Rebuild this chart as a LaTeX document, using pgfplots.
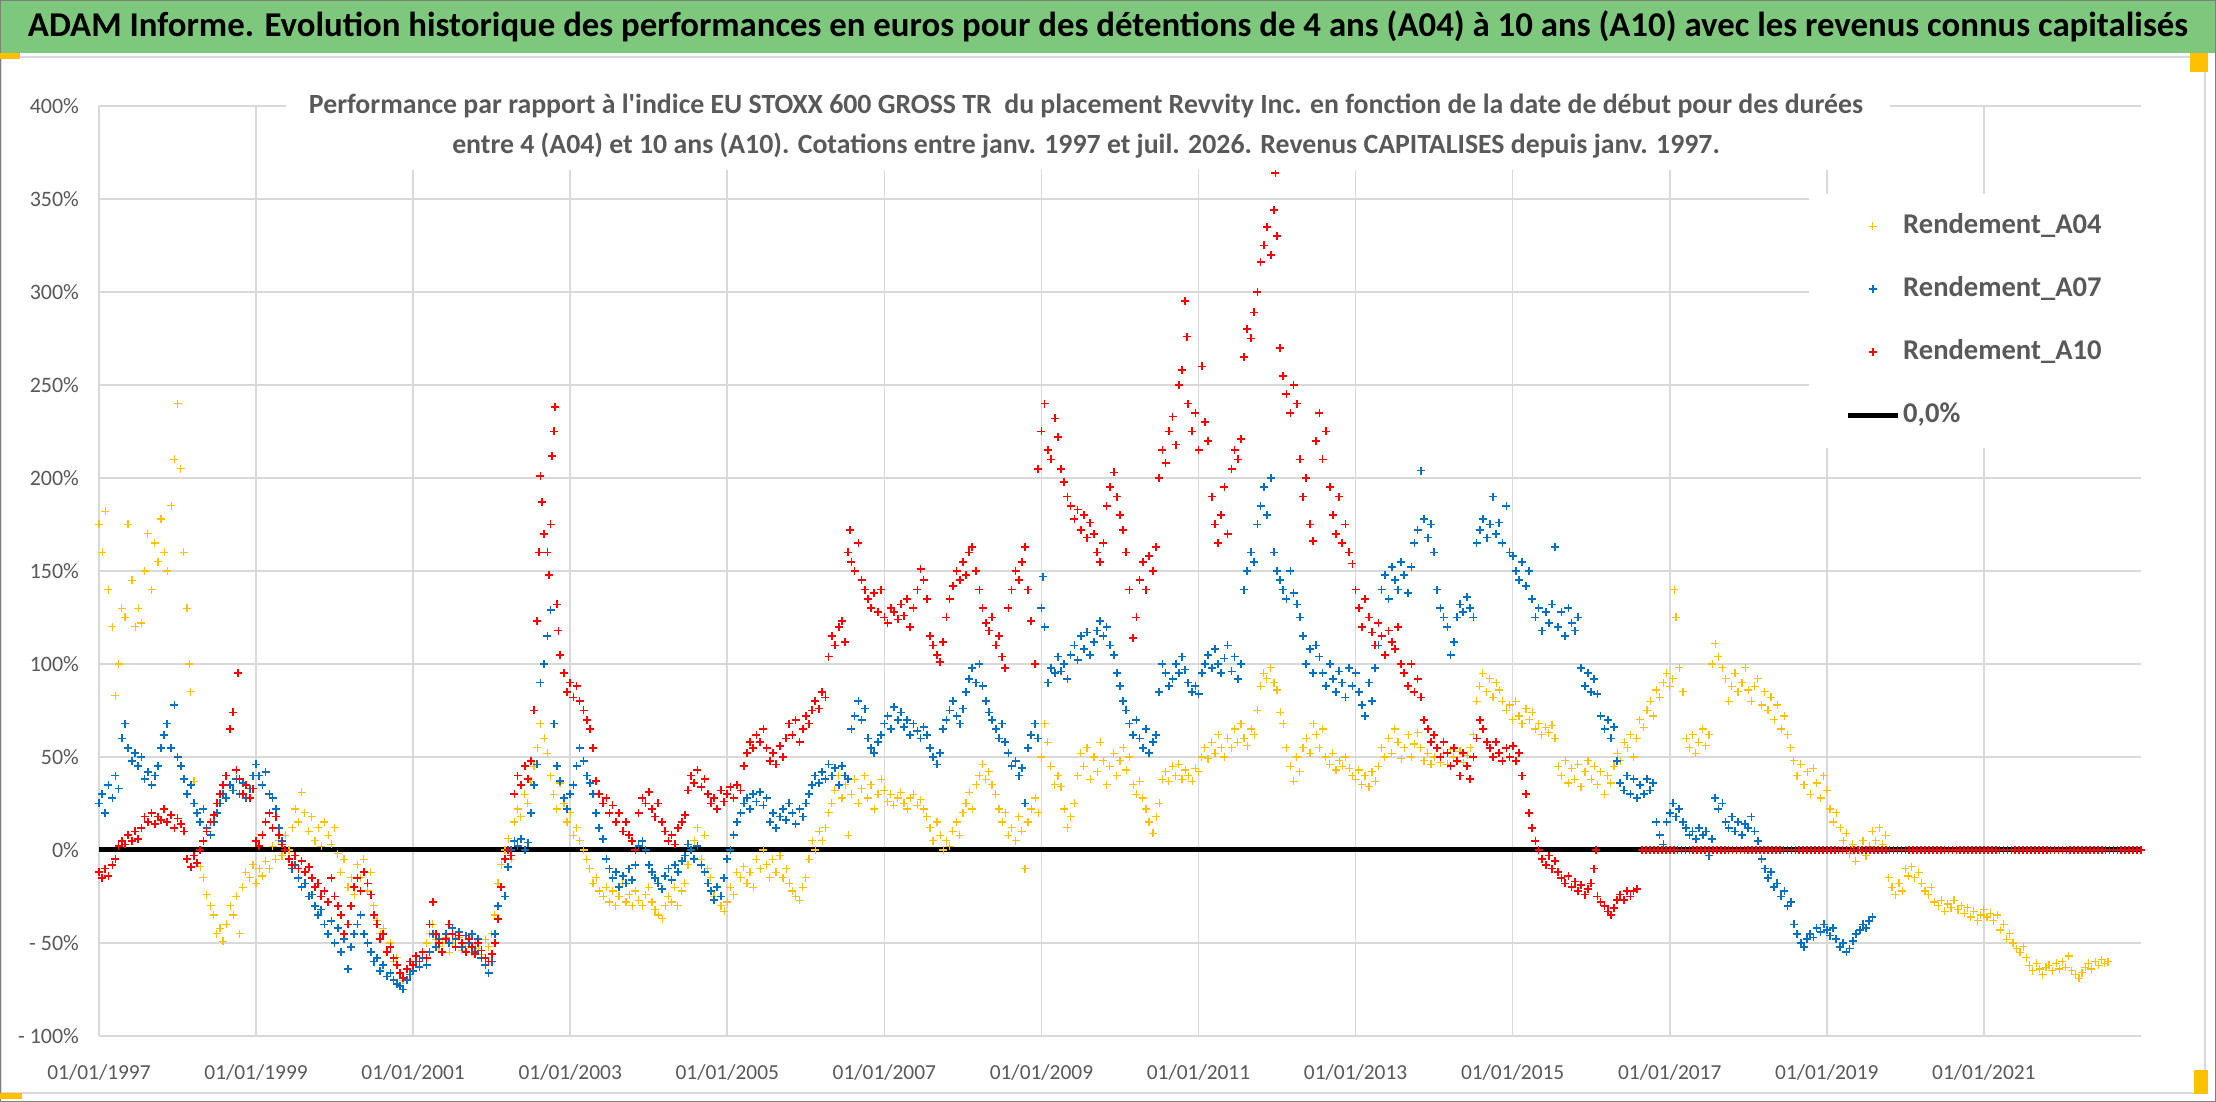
\documentclass[border=0pt]{standalone}
\usepackage{graphicx}
\usepackage{pgfplots}
\pgfplotsset{compat=1.18}
\usepackage{fontspec}
\setmainfont[Ligatures=TeXOff]{Carlito}
\definecolor{cyel}{HTML}{FFC000}
\definecolor{cblu}{HTML}{0070C0}
\definecolor{cred}{HTML}{FF0000}
\definecolor{ctxt}{HTML}{595959}
\definecolor{cgrid}{HTML}{D9D9D9}
\definecolor{cgreen}{HTML}{7EC87E}
\begin{document}
\begin{tikzpicture}[x=1pt,y=1pt]
\fill[white] (0,0) rectangle (1108,551);
\path[use as bounding box] (0,0) rectangle (1108,551);
\fill[cgreen] (0,551) rectangle (1108,524.5);
\draw[cgrid, line width=0.8pt] (0.6,4.5) rectangle (1102.5,522.5);
\draw[gray, line width=0.6pt] (0.3,0.3) rectangle (1107.7,550.7);
\fill[cyel] (0,521.5) rectangle (10,524.5);
\fill[cyel] (1095,524.5) rectangle (1104,515);
\fill[cyel] (1097,4) rectangle (1104,16);
\fill[cyel] (0,1.5) rectangle (11,4.5);
\begin{axis}[at={(49.5pt,33pt)}, anchor=south west, scale only axis,
  width=1021pt, height=465pt,
  xmin=1997, xmax=2023, ymin=-100, ymax=400,
  scaled x ticks=false, scaled y ticks=false,
  axis lines=left, axis line style={-, cgrid, line width=1.1pt},
  grid=major, major grid style={cgrid, line width=0.8pt},
  major tick length=0pt,
  xtick={1997,1999,2001,2003,2005,2007,2009,2011,2013,2015,2017,2019,2021},
  xticklabels={01/01/1997,01/01/1999,01/01/2001,01/01/2003,01/01/2005,01/01/2007,01/01/2009,01/01/2011,01/01/2013,01/01/2015,01/01/2017,01/01/2019,01/01/2021},
  ytick={-100,-50,0,50,100,150,200,250,300,350,400},
  yticklabels={- 100\%,- 50\%,0\%,50\%,100\%,150\%,200\%,250\%,300\%,350\%,400\%},
  xticklabel style={font=\fontsize{10.7}{12}\selectfont, text=ctxt, yshift=-11pt},
  yticklabel style={font=\fontsize{11}{12}\selectfont, text=ctxt, anchor=east, xshift=-6.5pt},
  legend style={at={(rel axis cs:1,0.906)}, anchor=north east, fill=white, draw=none,
    inner xsep=18pt, inner ysep=8pt, row sep=15pt,
    font=\fontsize{14.3}{17}\selectfont\bfseries, text=ctxt,
    nodes={inner sep=1.5pt, text height=10.5pt, text depth=3pt, anchor=west}},
  legend cell align=left,
  legend image code/.code={\draw[mark repeat=2,mark phase=2,#1] plot coordinates {(0pt,0pt) (12.5pt,0pt) (25pt,0pt)};},
]
\addplot[black, line width=2.5pt, forget plot] coordinates {(1997,0) (2023,0)};
\addplot[only marks, mark=+, mark size=2pt, color=cyel, mark options={line width=0.6pt}] coordinates {
(1997.00,175)(1997.04,160)(1997.08,182)(1997.12,140)(1997.17,120)(1997.21,83)(1997.25,100)(1997.29,130)(1997.33,125)(1997.37,175)(1997.42,145)(1997.46,120)(1997.50,130)(1997.54,122)(1997.58,150)(1997.62,170)(1997.67,140)(1997.71,165)(1997.75,155)(1997.79,178)(1997.83,160)(1997.87,150)(1997.92,185)(1997.96,210)
(1998.00,240)(1998.04,205)(1998.08,160)(1998.12,130)(1998.15,100)(1998.17,85)(1998.21,37)(1998.25,20)(1998.29,-9)(1998.33,-15)(1998.37,-24)(1998.42,-30)(1998.46,-35)(1998.50,-45)(1998.54,-42)(1998.58,-49)(1998.62,-40)(1998.67,-30)(1998.71,-35)(1998.75,-25)(1998.79,-45)(1998.83,-20)(1998.87,-12)(1998.92,-15)(1998.96,-8)
(1999.00,-18)(1999.04,-10)(1999.08,-14)(1999.12,-6)(1999.17,-10)(1999.21,2)(1999.25,-5)(1999.29,5)(1999.33,-3)(1999.37,8)(1999.42,0)(1999.46,12)(1999.50,22)(1999.54,15)(1999.58,31)(1999.62,20)(1999.67,10)(1999.71,18)(1999.75,5)(1999.79,12)(1999.83,2)(1999.87,15)(1999.92,8)(1999.96,3)
(2000.00,12)(2000.04,-2)(2000.08,-12)(2000.12,-5)(2000.17,-20)(2000.21,-15)(2000.25,-24)(2000.29,-8)(2000.33,-15)(2000.37,-5)(2000.42,-22)(2000.46,-12)(2000.50,-30)(2000.54,-38)(2000.58,-45)(2000.62,-42)(2000.67,-55)(2000.71,-50)(2000.75,-60)(2000.79,-58)(2000.83,-66)(2000.87,-70)(2000.92,-64)(2000.96,-60)
(2001.00,-62)(2001.04,-57)(2001.08,-60)(2001.12,-55)(2001.17,-50)(2001.21,-45)(2001.25,-40)(2001.29,-48)(2001.33,-52)(2001.37,-50)(2001.42,-47)(2001.46,-55)(2001.50,-50)(2001.54,-52)(2001.58,-47)(2001.62,-54)(2001.67,-52)(2001.71,-50)(2001.75,-55)(2001.79,-50)(2001.83,-53)(2001.87,-56)(2001.92,-48)(2001.96,-52)
(2002.00,-45)(2002.04,-35)(2002.08,-18)(2002.12,-8)(2002.17,0)(2002.21,6)(2002.25,-5)(2002.29,15)(2002.33,22)(2002.37,18)(2002.42,30)(2002.46,25)(2002.50,37)(2002.54,45)(2002.58,55)(2002.62,68)(2002.67,60)(2002.71,52)(2002.75,40)(2002.79,30)(2002.83,22)(2002.87,36)(2002.92,25)(2002.96,15)
(2003.00,20)(2003.04,8)(2003.08,12)(2003.12,5)(2003.17,0)(2003.21,-5)(2003.25,-10)(2003.29,-18)(2003.33,-15)(2003.37,-22)(2003.42,-25)(2003.46,-20)(2003.50,-28)(2003.54,-22)(2003.58,-30)(2003.62,-25)(2003.67,-18)(2003.71,-28)(2003.75,-24)(2003.79,-30)(2003.83,-22)(2003.87,-27)(2003.92,-30)(2003.96,-24)
(2004.00,-20)(2004.04,-28)(2004.08,-32)(2004.12,-35)(2004.17,-37)(2004.21,-30)(2004.25,-25)(2004.29,-28)(2004.33,-20)(2004.37,-30)(2004.42,-22)(2004.46,-18)(2004.50,-8)(2004.54,0)(2004.58,5)(2004.62,12)(2004.67,-5)(2004.71,8)(2004.75,-10)(2004.79,-15)(2004.83,-25)(2004.87,-20)(2004.92,-30)(2004.96,-33)
(2005.00,-28)(2005.04,-20)(2005.08,-24)(2005.12,-12)(2005.17,-15)(2005.21,-9)(2005.25,-18)(2005.29,-12)(2005.33,-20)(2005.37,-5)(2005.42,-10)(2005.46,0)(2005.50,-8)(2005.54,-15)(2005.58,-5)(2005.62,-12)(2005.67,-3)(2005.71,-15)(2005.75,-10)(2005.79,-18)(2005.83,-22)(2005.87,-25)(2005.92,-27)(2005.96,-20)
(2006.00,-15)(2006.04,-5)(2006.08,5)(2006.12,0)(2006.17,10)(2006.21,5)(2006.25,12)(2006.29,20)(2006.33,25)(2006.37,32)(2006.42,40)(2006.46,28)(2006.50,35)(2006.54,8)(2006.58,30)(2006.62,38)(2006.67,25)(2006.71,33)(2006.75,40)(2006.79,28)(2006.83,35)(2006.87,22)(2006.92,30)(2006.96,38)
(2007.00,32)(2007.04,26)(2007.08,30)(2007.12,24)(2007.17,28)(2007.21,31)(2007.25,25)(2007.29,22)(2007.33,28)(2007.37,30)(2007.42,24)(2007.46,27)(2007.50,22)(2007.54,18)(2007.58,12)(2007.62,5)(2007.67,15)(2007.71,8)(2007.75,0)(2007.79,5)(2007.83,2)(2007.87,10)(2007.92,15)(2007.96,8)
(2008.00,20)(2008.04,25)(2008.08,31)(2008.12,22)(2008.17,35)(2008.21,40)(2008.25,46)(2008.29,38)(2008.33,42)(2008.37,35)(2008.42,30)(2008.46,22)(2008.50,15)(2008.54,20)(2008.58,8)(2008.62,12)(2008.67,5)(2008.71,18)(2008.75,10)(2008.79,-10)(2008.83,15)(2008.87,22)(2008.92,28)(2008.96,20)
(2009.00,50)(2009.04,68)(2009.08,58)(2009.12,45)(2009.17,35)(2009.21,40)(2009.25,34)(2009.29,22)(2009.33,12)(2009.37,18)(2009.42,25)(2009.46,40)(2009.50,52)(2009.54,45)(2009.58,55)(2009.62,38)(2009.67,50)(2009.71,42)(2009.75,58)(2009.79,48)(2009.83,35)(2009.87,45)(2009.92,52)(2009.96,40)
(2010.00,48)(2010.04,55)(2010.08,43)(2010.12,50)(2010.17,35)(2010.21,30)(2010.25,37)(2010.29,28)(2010.33,22)(2010.37,15)(2010.42,9)(2010.46,18)(2010.50,25)(2010.54,38)(2010.58,42)(2010.62,37)(2010.67,45)(2010.71,40)(2010.75,46)(2010.79,38)(2010.83,43)(2010.87,40)(2010.92,37)(2010.96,44)
(2011.00,42)(2011.04,50)(2011.08,55)(2011.12,49)(2011.17,58)(2011.21,52)(2011.25,62)(2011.29,55)(2011.33,50)(2011.37,60)(2011.42,55)(2011.46,65)(2011.50,58)(2011.54,68)(2011.58,60)(2011.62,56)(2011.67,65)(2011.71,62)(2011.75,75)(2011.79,88)(2011.83,95)(2011.87,92)(2011.92,98)(2011.96,90)
(2012.00,86)(2012.04,74)(2012.08,68)(2012.12,55)(2012.17,45)(2012.21,37)(2012.25,50)(2012.29,42)(2012.33,55)(2012.37,60)(2012.42,52)(2012.46,68)(2012.50,62)(2012.54,55)(2012.58,65)(2012.62,50)(2012.67,46)(2012.71,52)(2012.75,43)(2012.79,48)(2012.83,45)(2012.87,50)(2012.92,44)(2012.96,40)
(2013.00,38)(2013.04,43)(2013.08,35)(2013.12,40)(2013.17,34)(2013.21,42)(2013.25,37)(2013.29,45)(2013.33,55)(2013.37,50)(2013.42,60)(2013.46,52)(2013.50,65)(2013.54,58)(2013.58,49)(2013.62,55)(2013.67,62)(2013.71,50)(2013.75,57)(2013.79,63)(2013.83,55)(2013.87,48)(2013.92,52)(2013.96,46)
(2014.00,50)(2014.04,55)(2014.08,47)(2014.12,52)(2014.17,46)(2014.21,54)(2014.25,50)(2014.29,48)(2014.33,53)(2014.37,47)(2014.42,51)(2014.46,55)(2014.50,62)(2014.54,80)(2014.58,88)(2014.62,95)(2014.67,85)(2014.71,92)(2014.75,82)(2014.79,90)(2014.83,86)(2014.87,80)(2014.92,75)(2014.96,78)
(2015.00,70)(2015.04,80)(2015.08,72)(2015.12,68)(2015.17,76)(2015.21,70)(2015.25,74)(2015.29,65)(2015.33,68)(2015.37,62)(2015.42,66)(2015.46,63)(2015.50,67)(2015.54,60)(2015.58,45)(2015.62,40)(2015.67,48)(2015.71,36)(2015.75,44)(2015.79,38)(2015.83,46)(2015.87,34)(2015.92,42)(2015.96,48)
(2016.00,38)(2016.04,45)(2016.08,35)(2016.12,42)(2016.17,30)(2016.21,40)(2016.25,36)(2016.29,45)(2016.33,52)(2016.37,48)(2016.42,58)(2016.46,55)(2016.50,62)(2016.54,50)(2016.58,60)(2016.62,70)(2016.67,66)(2016.71,75)(2016.75,80)(2016.79,72)(2016.83,86)(2016.87,82)(2016.92,90)(2016.96,95)
(2017.00,88)(2017.04,92)(2017.06,140)(2017.08,125)(2017.12,98)(2017.17,85)(2017.21,60)(2017.25,55)(2017.29,62)(2017.33,52)(2017.37,58)(2017.42,65)(2017.46,56)(2017.50,62)(2017.54,100)(2017.58,111)(2017.62,104)(2017.67,98)(2017.71,92)(2017.75,80)(2017.79,88)(2017.83,95)(2017.87,85)(2017.92,90)(2017.96,98)
(2018.00,86)(2018.04,80)(2018.08,88)(2018.12,92)(2018.17,78)(2018.21,85)(2018.25,75)(2018.29,82)(2018.33,70)(2018.37,78)(2018.42,65)(2018.46,72)(2018.50,62)(2018.54,55)(2018.58,48)(2018.62,40)(2018.67,46)(2018.71,35)(2018.75,42)(2018.79,30)(2018.83,44)(2018.87,36)(2018.92,28)(2018.96,40)
(2019.00,32)(2019.04,22)(2019.08,15)(2019.12,20)(2019.17,12)(2019.21,5)(2019.25,9)(2019.29,-2)(2019.33,3)(2019.37,-6)(2019.42,0)(2019.46,5)(2019.50,-3)(2019.54,2)(2019.58,10)(2019.62,5)(2019.67,12)(2019.71,3)(2019.75,8)(2019.79,-15)(2019.83,-20)(2019.87,-24)(2019.92,-18)(2019.96,-22)
(2020.00,-10)(2020.04,-14)(2020.08,-9)(2020.12,-15)(2020.17,-12)(2020.21,-18)(2020.25,-22)(2020.29,-24)(2020.33,-20)(2020.37,-28)(2020.42,-30)(2020.46,-27)(2020.50,-33)(2020.54,-29)(2020.58,-31)(2020.62,-27)(2020.67,-32)(2020.71,-30)(2020.75,-34)(2020.79,-31)(2020.83,-36)(2020.87,-33)(2020.92,-38)(2020.96,-35)
(2021.00,-32)(2021.04,-36)(2021.08,-34)(2021.12,-38)(2021.17,-35)(2021.21,-43)(2021.25,-40)(2021.29,-48)(2021.33,-45)(2021.37,-50)(2021.42,-53)(2021.46,-55)(2021.50,-52)(2021.54,-58)(2021.58,-62)(2021.62,-65)(2021.67,-61)(2021.71,-64)(2021.75,-67)(2021.79,-63)(2021.83,-62)(2021.87,-65)(2021.92,-61)(2021.96,-64)
(2022.00,-60)(2022.04,-63)(2022.08,-57)(2022.12,-65)(2022.17,-67)(2022.21,-69)(2022.25,-66)(2022.29,-63)(2022.33,-61)(2022.37,-64)(2022.42,-60)(2022.46,-62)(2022.50,-59)(2022.54,-61)(2022.58,-60)
};
\addlegendentry{Rendement\_A04}
\addplot[only marks, mark=+, mark size=2pt, color=cblu, mark options={line width=0.85pt}] coordinates {
(1997.00,25)(1997.04,30)(1997.08,20)(1997.12,35)(1997.17,28)(1997.21,40)(1997.25,33)(1997.29,60)(1997.33,68)(1997.37,55)(1997.42,48)(1997.46,52)(1997.50,45)(1997.54,50)(1997.58,38)(1997.62,42)(1997.67,35)(1997.71,40)(1997.75,45)(1997.79,55)(1997.83,62)(1997.87,68)(1997.92,55)(1997.96,78)
(1998.00,50)(1998.04,45)(1998.08,38)(1998.12,30)(1998.17,35)(1998.21,25)(1998.25,20)(1998.29,15)(1998.33,22)(1998.37,12)(1998.42,8)(1998.46,15)(1998.50,20)(1998.54,25)(1998.58,30)(1998.62,28)(1998.67,35)(1998.71,32)(1998.75,38)(1998.79,30)(1998.83,36)(1998.87,28)(1998.92,33)(1998.96,40)
(1999.00,46)(1999.04,40)(1999.08,35)(1999.12,42)(1999.17,30)(1999.21,28)(1999.25,22)(1999.29,12)(1999.33,5)(1999.37,0)(1999.42,-5)(1999.46,-10)(1999.50,-8)(1999.54,-15)(1999.58,-20)(1999.62,-18)(1999.67,-25)(1999.71,-24)(1999.75,-30)(1999.79,-35)(1999.83,-32)(1999.87,-40)(1999.92,-45)(1999.96,-38)
(2000.00,-50)(2000.04,-42)(2000.08,-55)(2000.12,-48)(2000.17,-64)(2000.21,-52)(2000.25,-45)(2000.29,-40)(2000.33,-35)(2000.37,-45)(2000.42,-50)(2000.46,-55)(2000.50,-60)(2000.54,-58)(2000.58,-65)(2000.62,-62)(2000.67,-68)(2000.71,-66)(2000.75,-70)(2000.79,-72)(2000.83,-73)(2000.87,-75)(2000.92,-70)(2000.96,-67)
(2001.00,-65)(2001.04,-60)(2001.08,-63)(2001.12,-58)(2001.17,-62)(2001.21,-55)(2001.25,-45)(2001.29,-52)(2001.33,-48)(2001.37,-55)(2001.42,-45)(2001.46,-50)(2001.50,-42)(2001.54,-48)(2001.58,-44)(2001.62,-52)(2001.67,-46)(2001.71,-50)(2001.75,-45)(2001.79,-55)(2001.83,-48)(2001.87,-58)(2001.92,-62)(2001.96,-66)
(2002.00,-60)(2002.04,-45)(2002.08,-30)(2002.12,-20)(2002.17,-25)(2002.21,-9)(2002.25,0)(2002.29,5)(2002.33,2)(2002.37,6)(2002.42,0)(2002.46,4)(2002.50,20)(2002.54,35)(2002.58,46)(2002.62,90)(2002.67,100)(2002.71,115)(2002.75,129)(2002.79,68)(2002.83,45)(2002.87,37)(2002.92,28)(2002.96,22)
(2003.00,30)(2003.04,35)(2003.08,45)(2003.12,55)(2003.17,48)(2003.21,40)(2003.25,36)(2003.29,30)(2003.33,20)(2003.37,12)(2003.42,6)(2003.46,-5)(2003.50,-10)(2003.54,-15)(2003.58,-12)(2003.62,-20)(2003.67,-14)(2003.71,-18)(2003.75,-10)(2003.79,-16)(2003.83,-8)(2003.87,2)(2003.92,5)(2003.96,0)
(2004.00,-8)(2004.04,-12)(2004.08,-15)(2004.12,-18)(2004.17,-21)(2004.21,-14)(2004.25,-10)(2004.29,-16)(2004.33,-8)(2004.37,-12)(2004.42,-6)(2004.46,-3)(2004.50,3)(2004.54,0)(2004.58,-5)(2004.62,2)(2004.67,-8)(2004.71,-12)(2004.75,-18)(2004.79,-22)(2004.83,-27)(2004.87,-20)(2004.92,-25)(2004.96,-15)
(2005.00,-5)(2005.04,0)(2005.08,8)(2005.12,15)(2005.17,20)(2005.21,25)(2005.25,28)(2005.29,22)(2005.33,30)(2005.37,26)(2005.42,31)(2005.46,24)(2005.50,28)(2005.54,15)(2005.58,20)(2005.62,12)(2005.67,18)(2005.71,22)(2005.75,16)(2005.79,25)(2005.83,20)(2005.87,14)(2005.92,22)(2005.96,18)
(2006.00,25)(2006.04,30)(2006.08,35)(2006.12,40)(2006.17,36)(2006.21,42)(2006.25,38)(2006.29,46)(2006.33,40)(2006.37,44)(2006.42,35)(2006.46,45)(2006.50,40)(2006.54,38)(2006.58,65)(2006.62,72)(2006.67,80)(2006.71,70)(2006.75,76)(2006.79,60)(2006.83,55)(2006.87,52)(2006.92,58)(2006.96,62)
(2007.00,68)(2007.04,72)(2007.08,65)(2007.12,77)(2007.17,70)(2007.21,74)(2007.25,66)(2007.29,70)(2007.33,62)(2007.37,68)(2007.42,64)(2007.46,60)(2007.50,66)(2007.54,62)(2007.58,55)(2007.62,50)(2007.67,46)(2007.71,52)(2007.75,65)(2007.79,70)(2007.83,75)(2007.87,80)(2007.92,72)(2007.96,68)
(2008.00,76)(2008.04,85)(2008.08,92)(2008.12,98)(2008.17,90)(2008.21,100)(2008.25,88)(2008.29,80)(2008.33,74)(2008.37,70)(2008.42,65)(2008.46,60)(2008.50,68)(2008.54,58)(2008.58,52)(2008.62,45)(2008.67,48)(2008.71,40)(2008.75,44)(2008.79,25)(2008.83,55)(2008.87,62)(2008.92,68)(2008.96,60)
(2009.00,130)(2009.02,147)(2009.04,120)(2009.08,90)(2009.12,98)(2009.17,95)(2009.21,104)(2009.25,96)(2009.29,100)(2009.33,92)(2009.37,105)(2009.42,110)(2009.46,102)(2009.50,115)(2009.54,108)(2009.58,117)(2009.62,105)(2009.67,112)(2009.71,118)(2009.75,123)(2009.79,115)(2009.83,120)(2009.87,110)(2009.92,105)(2009.96,95)
(2010.00,88)(2010.04,80)(2010.08,75)(2010.12,68)(2010.17,62)(2010.21,70)(2010.25,60)(2010.29,55)(2010.33,65)(2010.37,52)(2010.42,58)(2010.46,62)(2010.50,85)(2010.54,100)(2010.58,95)(2010.62,88)(2010.67,92)(2010.71,100)(2010.75,95)(2010.79,104)(2010.83,97)(2010.87,90)(2010.92,85)(2010.96,88)
(2011.00,84)(2011.04,95)(2011.08,100)(2011.12,105)(2011.17,98)(2011.21,108)(2011.25,100)(2011.29,95)(2011.33,103)(2011.37,110)(2011.42,96)(2011.46,104)(2011.50,92)(2011.54,100)(2011.58,140)(2011.62,150)(2011.67,160)(2011.71,155)(2011.75,175)(2011.79,185)(2011.83,195)(2011.87,180)(2011.92,200)(2011.96,160)
(2012.00,150)(2012.04,145)(2012.08,140)(2012.12,135)(2012.17,150)(2012.21,138)(2012.25,132)(2012.29,125)(2012.33,115)(2012.37,100)(2012.42,108)(2012.46,95)(2012.50,110)(2012.54,104)(2012.58,95)(2012.62,88)(2012.67,100)(2012.71,92)(2012.75,85)(2012.79,96)(2012.83,90)(2012.87,82)(2012.92,98)(2012.96,88)
(2013.00,95)(2013.04,85)(2013.08,78)(2013.12,72)(2013.17,90)(2013.21,80)(2013.25,98)(2013.29,110)(2013.33,140)(2013.37,148)(2013.42,135)(2013.46,152)(2013.50,145)(2013.54,140)(2013.58,155)(2013.62,148)(2013.67,138)(2013.71,152)(2013.75,165)(2013.79,172)(2013.83,204)(2013.87,178)(2013.92,168)(2013.96,175)
(2014.00,160)(2014.04,140)(2014.08,130)(2014.12,125)(2014.17,120)(2014.21,105)(2014.25,112)(2014.29,125)(2014.33,132)(2014.37,128)(2014.42,136)(2014.46,130)(2014.50,125)(2014.54,165)(2014.58,172)(2014.62,178)(2014.67,168)(2014.71,175)(2014.75,190)(2014.79,170)(2014.83,176)(2014.87,165)(2014.92,185)(2014.96,160)
(2015.00,158)(2015.04,150)(2015.08,145)(2015.12,155)(2015.17,142)(2015.21,150)(2015.25,135)(2015.29,125)(2015.33,130)(2015.37,118)(2015.42,128)(2015.46,122)(2015.50,132)(2015.54,163)(2015.58,120)(2015.62,128)(2015.67,115)(2015.71,130)(2015.75,122)(2015.79,118)(2015.83,125)(2015.87,98)(2015.92,88)(2015.96,95)
(2016.00,85)(2016.04,92)(2016.08,84)(2016.12,72)(2016.17,65)(2016.21,70)(2016.25,60)(2016.29,66)(2016.33,48)(2016.37,36)(2016.42,32)(2016.46,40)(2016.50,30)(2016.54,38)(2016.58,28)(2016.62,35)(2016.67,30)(2016.71,38)(2016.75,32)(2016.79,36)(2016.83,15)(2016.87,8)(2016.92,3)(2016.96,15)
(2017.00,20)(2017.04,25)(2017.08,18)(2017.12,22)(2017.17,15)(2017.21,12)(2017.25,8)(2017.29,10)(2017.33,6)(2017.37,12)(2017.42,8)(2017.46,10)(2017.50,-3)(2017.54,6)(2017.58,28)(2017.62,22)(2017.67,25)(2017.71,15)(2017.75,12)(2017.79,18)(2017.83,10)(2017.87,15)(2017.92,8)(2017.96,14)
(2018.00,12)(2018.04,18)(2018.08,10)(2018.12,5)(2018.17,-5)(2018.21,-10)(2018.25,-15)(2018.29,-12)(2018.33,-20)(2018.37,-18)(2018.42,-25)(2018.46,-22)(2018.50,-30)(2018.54,-28)(2018.58,-40)(2018.62,-45)(2018.67,-50)(2018.71,-52)(2018.75,-48)(2018.79,-45)(2018.83,-47)(2018.87,-42)(2018.92,-44)(2018.96,-40)
(2019.00,-43)(2019.04,-46)(2019.08,-42)(2019.12,-48)(2019.17,-52)(2019.21,-50)(2019.25,-55)(2019.29,-53)(2019.33,-49)(2019.37,-45)(2019.42,-43)(2019.46,-40)(2019.50,-42)(2019.54,-38)(2019.58,-36)
};
\addlegendentry{Rendement\_A07}
\addplot[only marks, mark=+, mark size=2pt, color=cred, mark options={line width=0.85pt}] coordinates {
(1997.00,-12)(1997.04,-15)(1997.08,-10)(1997.12,-14)(1997.17,-8)(1997.21,-5)(1997.25,2)(1997.29,5)(1997.33,3)(1997.37,8)(1997.42,5)(1997.46,10)(1997.50,6)(1997.54,12)(1997.58,18)(1997.62,15)(1997.67,20)(1997.71,14)(1997.75,18)(1997.79,16)(1997.83,22)(1997.87,15)(1997.92,19)(1997.96,12)
(1998.00,17)(1998.04,14)(1998.08,10)(1998.12,-5)(1998.17,-9)(1998.21,-3)(1998.25,-7)(1998.29,0)(1998.33,5)(1998.37,10)(1998.42,15)(1998.46,19)(1998.50,25)(1998.54,30)(1998.58,35)(1998.62,40)(1998.67,65)(1998.71,74)(1998.75,43)(1998.77,95)(1998.79,38)(1998.83,30)(1998.87,35)(1998.92,28)(1998.96,33)
(1999.00,5)(1999.04,2)(1999.08,8)(1999.12,15)(1999.17,20)(1999.21,12)(1999.25,18)(1999.29,8)(1999.33,3)(1999.37,0)(1999.42,-5)(1999.46,-8)(1999.50,-3)(1999.54,-10)(1999.58,-6)(1999.62,-12)(1999.67,-9)(1999.71,-15)(1999.75,-20)(1999.79,-18)(1999.83,-25)(1999.87,-22)(1999.92,-28)(1999.96,-15)
(2000.00,-25)(2000.04,-30)(2000.08,-35)(2000.12,-45)(2000.17,-40)(2000.21,-30)(2000.25,-20)(2000.29,-15)(2000.33,-22)(2000.37,-12)(2000.42,-18)(2000.46,-24)(2000.50,-35)(2000.54,-40)(2000.58,-48)(2000.62,-45)(2000.67,-55)(2000.71,-52)(2000.75,-58)(2000.79,-62)(2000.83,-66)(2000.87,-69)(2000.92,-64)(2000.96,-60)
(2001.00,-62)(2001.04,-57)(2001.08,-60)(2001.12,-55)(2001.17,-58)(2001.21,-40)(2001.25,-28)(2001.29,-45)(2001.33,-50)(2001.37,-55)(2001.42,-48)(2001.46,-40)(2001.50,-45)(2001.54,-52)(2001.58,-46)(2001.62,-50)(2001.67,-55)(2001.71,-48)(2001.75,-52)(2001.79,-56)(2001.83,-50)(2001.87,-54)(2001.92,-58)(2001.96,-60)
(2002.00,-56)(2002.04,-50)(2002.08,-37)(2002.12,-20)(2002.17,-5)(2002.21,0)(2002.25,-3)(2002.29,30)(2002.33,40)(2002.37,35)(2002.42,45)(2002.46,38)(2002.50,48)(2002.54,75)(2002.58,123)(2002.60,160)(2002.62,201)(2002.64,187)(2002.67,170)(2002.71,160)(2002.73,148)(2002.75,175)(2002.77,212)(2002.79,225)(2002.81,238)(2002.83,132)(2002.85,118)(2002.87,105)(2002.92,95)(2002.96,85)
(2003.00,90)(2003.04,82)(2003.08,88)(2003.12,80)(2003.17,75)(2003.21,70)(2003.25,65)(2003.29,55)(2003.33,37)(2003.37,30)(2003.42,25)(2003.46,28)(2003.50,20)(2003.54,24)(2003.58,15)(2003.62,20)(2003.67,10)(2003.71,15)(2003.75,8)(2003.79,5)(2003.83,0)(2003.87,20)(2003.92,28)(2003.96,25)
(2004.00,31)(2004.04,22)(2004.08,18)(2004.12,25)(2004.17,15)(2004.21,10)(2004.25,5)(2004.29,8)(2004.33,3)(2004.37,12)(2004.42,15)(2004.46,19)(2004.50,32)(2004.54,40)(2004.58,36)(2004.62,43)(2004.67,34)(2004.71,38)(2004.75,30)(2004.79,25)(2004.83,28)(2004.87,22)(2004.92,32)(2004.96,26)
(2005.00,30)(2005.04,34)(2005.08,28)(2005.12,35)(2005.17,32)(2005.21,45)(2005.25,52)(2005.29,58)(2005.33,55)(2005.37,62)(2005.42,58)(2005.46,65)(2005.50,55)(2005.54,48)(2005.58,52)(2005.62,46)(2005.67,56)(2005.71,50)(2005.75,60)(2005.79,68)(2005.83,62)(2005.87,70)(2005.92,58)(2005.96,65)
(2006.00,72)(2006.04,68)(2006.08,75)(2006.12,80)(2006.17,76)(2006.21,85)(2006.25,82)(2006.29,104)(2006.33,115)(2006.37,110)(2006.42,120)(2006.46,123)(2006.50,112)(2006.54,160)(2006.56,172)(2006.58,155)(2006.62,150)(2006.67,165)(2006.71,145)(2006.75,140)(2006.79,135)(2006.83,130)(2006.87,138)(2006.92,128)(2006.96,140)
(2007.00,125)(2007.04,122)(2007.08,130)(2007.12,128)(2007.17,124)(2007.21,132)(2007.25,126)(2007.29,135)(2007.33,120)(2007.37,130)(2007.42,140)(2007.46,151)(2007.50,145)(2007.54,135)(2007.58,115)(2007.62,110)(2007.67,105)(2007.71,101)(2007.75,112)(2007.79,125)(2007.83,135)(2007.87,142)(2007.92,150)(2007.96,145)
(2008.00,155)(2008.04,148)(2008.08,160)(2008.12,163)(2008.17,150)(2008.21,140)(2008.25,130)(2008.29,122)(2008.33,118)(2008.37,125)(2008.42,110)(2008.46,115)(2008.50,104)(2008.54,98)(2008.58,130)(2008.62,140)(2008.67,150)(2008.71,145)(2008.75,155)(2008.79,163)(2008.83,140)(2008.87,123)(2008.92,100)(2008.96,205)
(2009.00,225)(2009.04,240)(2009.08,215)(2009.12,210)(2009.17,232)(2009.21,222)(2009.25,205)(2009.29,198)(2009.33,190)(2009.37,185)(2009.42,178)(2009.46,183)(2009.50,172)(2009.54,180)(2009.58,168)(2009.62,176)(2009.67,170)(2009.71,160)(2009.75,155)(2009.79,165)(2009.83,185)(2009.87,195)(2009.92,203)(2009.96,190)
(2010.00,180)(2010.04,172)(2010.08,160)(2010.12,140)(2010.17,114)(2010.21,125)(2010.25,145)(2010.29,155)(2010.33,140)(2010.37,158)(2010.42,150)(2010.46,163)(2010.50,200)(2010.54,215)(2010.58,208)(2010.62,225)(2010.67,233)(2010.71,218)(2010.75,250)(2010.79,258)(2010.83,295)(2010.85,276)(2010.87,240)(2010.92,225)(2010.96,235)
(2011.00,215)(2011.04,260)(2011.08,230)(2011.12,220)(2011.17,190)(2011.21,175)(2011.25,165)(2011.29,180)(2011.33,195)(2011.37,170)(2011.42,205)(2011.46,215)(2011.50,210)(2011.54,221)(2011.58,265)(2011.62,280)(2011.67,275)(2011.71,289)(2011.75,300)(2011.79,316)(2011.83,325)(2011.87,335)(2011.92,320)(2011.96,344)(2011.98,364)
(2012.00,330)(2012.04,270)(2012.08,255)(2012.12,245)(2012.17,235)(2012.21,250)(2012.25,240)(2012.29,210)(2012.33,190)(2012.37,200)(2012.42,175)(2012.46,166)(2012.50,220)(2012.54,235)(2012.58,210)(2012.62,225)(2012.67,195)(2012.71,180)(2012.75,170)(2012.79,190)(2012.83,165)(2012.87,175)(2012.92,160)(2012.96,154)
(2013.00,140)(2013.04,130)(2013.08,120)(2013.12,135)(2013.17,125)(2013.21,117)(2013.25,110)(2013.29,122)(2013.33,115)(2013.37,105)(2013.42,118)(2013.46,112)(2013.50,108)(2013.54,120)(2013.58,100)(2013.62,95)(2013.67,88)(2013.71,100)(2013.75,85)(2013.79,92)(2013.83,82)(2013.87,70)(2013.92,65)(2013.96,58)
(2014.00,62)(2014.04,55)(2014.08,50)(2014.12,58)(2014.17,52)(2014.21,45)(2014.25,55)(2014.29,48)(2014.33,40)(2014.37,52)(2014.42,45)(2014.46,38)(2014.50,50)(2014.54,60)(2014.58,70)(2014.62,65)(2014.67,58)(2014.71,55)(2014.75,50)(2014.79,58)(2014.83,52)(2014.87,48)(2014.92,55)(2014.96,50)
(2015.00,56)(2015.04,48)(2015.08,52)(2015.12,40)(2015.17,30)(2015.21,20)(2015.25,12)(2015.29,5)(2015.33,0)(2015.37,-5)(2015.42,-8)(2015.46,-3)(2015.50,-10)(2015.54,-6)(2015.58,-12)(2015.62,-15)(2015.67,-18)(2015.71,-14)(2015.75,-20)(2015.79,-17)(2015.83,-22)(2015.87,-19)(2015.92,-24)(2015.96,-21)
(2016.00,-18)(2016.04,-10)(2016.06,0)(2016.08,-25)(2016.12,-28)(2016.17,-30)(2016.21,-33)(2016.25,-35)(2016.29,-31)(2016.33,-27)(2016.37,-24)(2016.42,-27)(2016.46,-22)(2016.50,-25)(2016.54,-22)(2016.58,-21)
(2016.65,0)(2016.70,0)(2016.75,0)(2016.80,0)(2016.85,0)(2016.90,0)(2016.95,0)
(2017.00,0)(2017.05,0)(2017.10,0)(2017.15,0)(2017.20,0)(2017.25,0)(2017.30,0)(2017.35,0)(2017.40,0)(2017.45,0)(2017.50,0)(2017.55,0)(2017.60,0)(2017.65,0)(2017.70,0)(2017.75,0)(2017.80,0)(2017.85,0)(2017.90,0)(2017.95,0)
(2018.00,0)(2018.05,0)(2018.10,0)(2018.15,0)(2018.20,0)(2018.25,0)(2018.30,0)(2018.35,0)(2018.40,0)(2018.45,0)(2018.50,0)(2018.55,0)(2018.60,0)(2018.65,0)(2018.70,0)(2018.75,0)(2018.80,0)(2018.85,0)(2018.90,0)(2018.95,0)
(2019.00,0)(2019.05,0)(2019.10,0)(2019.15,0)(2019.20,0)(2019.25,0)(2019.30,0)(2019.35,0)(2019.40,0)(2019.45,0)(2019.50,0)(2019.55,0)(2019.60,0)(2019.65,0)(2019.70,0)(2019.75,0)(2019.80,0)(2019.85,0)(2019.90,0)(2019.95,0)
(2020.00,0)(2020.05,0)(2020.10,0)(2020.15,0)(2020.20,0)(2020.25,0)(2020.30,0)(2020.35,0)(2020.40,0)(2020.45,0)(2020.50,0)(2020.55,0)(2020.60,0)(2020.65,0)(2020.70,0)(2020.75,0)(2020.80,0)(2020.85,0)(2020.90,0)(2020.95,0)
(2021.00,0)(2021.05,0)(2021.10,0)(2021.15,0)(2021.20,0)(2021.25,0)(2021.30,0)(2021.35,0)(2021.40,0)(2021.45,0)(2021.50,0)(2021.55,0)(2021.60,0)(2021.65,0)(2021.70,0)(2021.75,0)(2021.80,0)(2021.85,0)(2021.90,0)(2021.95,0)
(2022.00,0)(2022.05,0)(2022.10,0)(2022.15,0)(2022.20,0)(2022.25,0)(2022.30,0)(2022.35,0)(2022.40,0)(2022.45,0)(2022.50,0)(2022.55,0)(2022.60,0)(2022.65,0)(2022.70,0)(2022.75,0)(2022.80,0)(2022.85,0)(2022.90,0)(2022.95,0)(2023.00,0)
};
\addlegendentry{Rendement\_A10}
\addlegendimage{black, line width=2.5pt}
\addlegendentry{0,0\%}
\end{axis}
\fill[white] (143,466) rectangle (945,515);
\node[align=center, font=\fontsize{13.9}{20}\selectfont\bfseries, text=ctxt, inner sep=0pt] at (543,488) {Performance par rapport à l'indice EU STOXX 600 GROSS TR\ \ du placement Revvity Inc. en fonction de la date de début pour des durées\\entre 4 (A04) et 10 ans (A10). Cotations entre janv. 1997 et juil. 2026. Revenus CAPITALISES depuis janv. 1997.};
\node[inner sep=0pt] at (554,537.75) {\resizebox{1080pt}{!}{\bfseries ADAM Informe. Evolution historique des performances en euros pour des détentions de 4 ans (A04) à 10 ans (A10) avec les revenus connus capitalisés}};
\end{tikzpicture}
\end{document}
